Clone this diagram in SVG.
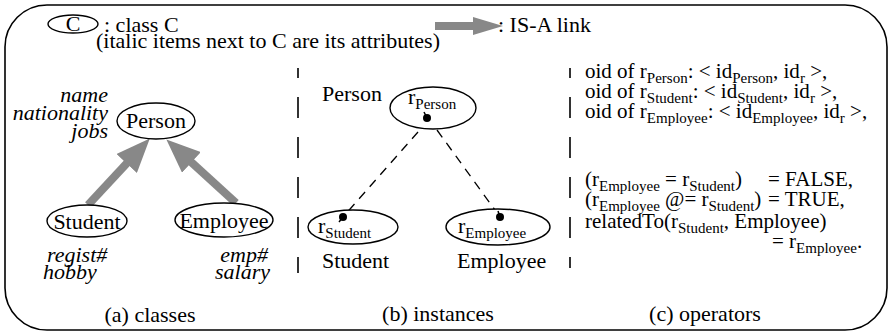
<svg xmlns="http://www.w3.org/2000/svg" width="892" height="334" viewBox="0 0 892 334">
<style>
.t{font-family:"Liberation Serif","Times New Roman",serif;font-size:22px;fill:#000}
.r{font-size:21px}
.i{font-style:italic}
.s{font-size:15px}
.m{text-anchor:middle}
.e{text-anchor:end}
ellipse{fill:#fff;stroke:#000;stroke-width:1.4}
.isa{stroke:#888;stroke-width:8;fill:none}
.dash{stroke:#000;stroke-width:1.3;fill:none;stroke-dasharray:9 7}
.sep{stroke:#000;stroke-width:1.6;fill:none;stroke-dasharray:21 19}
.dot{fill:#000}
.tail{stroke:#000;stroke-width:1.5}
</style>
<defs>
<marker id="head" markerUnits="userSpaceOnUse" markerWidth="34" markerHeight="28" refX="2" refY="14" orient="auto">
<path d="M0,0 L34,14 L0,28 z" fill="#888"/>
</marker>
<marker id="headS" markerUnits="userSpaceOnUse" markerWidth="30" markerHeight="18" refX="2" refY="9" orient="auto">
<path d="M0,0 L30,9 L0,18 z" fill="#888"/>
</marker>
</defs>
<rect x="5" y="5" width="882" height="325" rx="42" ry="42" fill="#fff" stroke="#000" stroke-width="1.6"/>
<g id="legend">
<ellipse cx="73" cy="24" rx="25" ry="9"/>
<text class="t m" x="73" y="31">C</text>
<text class="t" x="104" y="32">: class C</text>
<text class="t" x="96" y="48">(italic items next to C are its attributes)</text>
<line x1="435" y1="26" x2="475" y2="26" class="isa" marker-end="url(#headS)"/>
<text class="t" x="498" y="32">: IS-A link</text>
</g>
<g id="separators">
<line x1="298" y1="68" x2="298" y2="273" class="sep" stroke-dashoffset="11"/>
<line x1="570" y1="68" x2="570" y2="268" class="sep" stroke-dashoffset="11"/>
</g>
<g id="connectors">
<line x1="88" y1="205" x2="128" y2="162" class="isa" marker-end="url(#head)"/>
<line x1="236" y1="203" x2="190" y2="161" class="isa" marker-end="url(#head)"/>
<line x1="418" y1="132" x2="343" y2="217" class="dash"/>
<line x1="437" y1="130" x2="500" y2="217" class="dash"/>
</g>
<g id="class-person">
<ellipse cx="156" cy="121" rx="39" ry="18"/>
<text class="t m" x="156" y="128">Person</text>
<text class="t i e" x="108" y="102">name</text>
<text class="t i e" x="108" y="120">nationality</text>
<text class="t i e" x="108" y="138">jobs</text>
</g>
<g id="class-student">
<ellipse cx="87" cy="221" rx="40" ry="16"/>
<text class="t m" x="87" y="229">Student</text>
<text class="t i" x="47" y="262">regist#</text>
<text class="t i" x="43" y="279">hobby</text>
</g>
<g id="class-employee">
<ellipse cx="224" cy="220" rx="49" ry="17"/>
<text class="t m" x="224" y="228">Employee</text>
<text class="t i e" x="268" y="262">emp#</text>
<text class="t i e" x="270" y="279">salary</text>
</g>
<g id="inst-person">
<text class="t" x="322" y="101">Person</text>
<ellipse cx="433" cy="108" rx="43" ry="21"/>
<text class="t" x="408" y="104">r<tspan class="s" dy="5">Person</tspan></text>
<line x1="427" y1="118" x2="424" y2="112" class="tail"/>
<circle cx="427" cy="118" r="4" class="dot"/>
</g>
<g id="inst-student">
<ellipse cx="353" cy="227" rx="45" ry="17"/>
<text class="t" x="318" y="233">r<tspan class="s" dy="5">Student</tspan></text>
<line x1="343" y1="217" x2="339" y2="222" class="tail"/>
<circle cx="343" cy="217" r="4" class="dot"/>
<text class="t" x="322" y="268">Student</text>
</g>
<g id="inst-employee">
<ellipse cx="498" cy="227" rx="52" ry="18"/>
<text class="t" x="458" y="233">r<tspan class="s" dy="5">Employee</tspan></text>
<line x1="500" y1="217" x2="498" y2="211" class="tail"/>
<circle cx="500" cy="217" r="4" class="dot"/>
<text class="t" x="457" y="268">Employee</text>
</g>
<g id="operators">
<text class="t r" x="585" y="78">oid of r<tspan class="s" dy="5">Person</tspan><tspan dy="-5">: &lt; id</tspan><tspan class="s" dy="5">Person</tspan><tspan dy="-5">, id</tspan><tspan class="s" dy="5">r</tspan><tspan dy="-5"> &gt;,</tspan></text>
<text class="t r" x="585" y="98">oid of r<tspan class="s" dy="5">Student</tspan><tspan dy="-5">: &lt; id</tspan><tspan class="s" dy="5">Student</tspan><tspan dy="-5">, id</tspan><tspan class="s" dy="5">r</tspan><tspan dy="-5"> &gt;,</tspan></text>
<text class="t r" x="585" y="118">oid of r<tspan class="s" dy="5">Employee</tspan><tspan dy="-5">: &lt; id</tspan><tspan class="s" dy="5">Employee</tspan><tspan dy="-5">, id</tspan><tspan class="s" dy="5">r</tspan><tspan dy="-5"> &gt;,</tspan></text>
<text class="t r" x="585" y="186">(r<tspan class="s" dy="5">Employee</tspan><tspan dy="-5"> = r</tspan><tspan class="s" dy="5">Student</tspan><tspan dy="-5">)</tspan><tspan x="768">= FALSE,</tspan></text>
<text class="t r" x="585" y="206">(r<tspan class="s" dy="5">Employee</tspan><tspan dy="-5"> @= r</tspan><tspan class="s" dy="5">Student</tspan><tspan dy="-5">)</tspan><tspan x="768">= TRUE,</tspan></text>
<text class="t r" x="585" y="228">relatedTo(r<tspan class="s" dy="5">Student</tspan><tspan dy="-5">, Employee)</tspan></text>
<text class="t r" x="772" y="248">= r<tspan class="s" dy="5">Employee</tspan><tspan dy="-5">.</tspan></text>
</g>
<g id="captions">
<text class="t m" x="150" y="322">(a) classes</text>
<text class="t m" x="438" y="321">(b) instances</text>
<text class="t m" x="705" y="321">(c) operators</text>
</g>
</svg>
